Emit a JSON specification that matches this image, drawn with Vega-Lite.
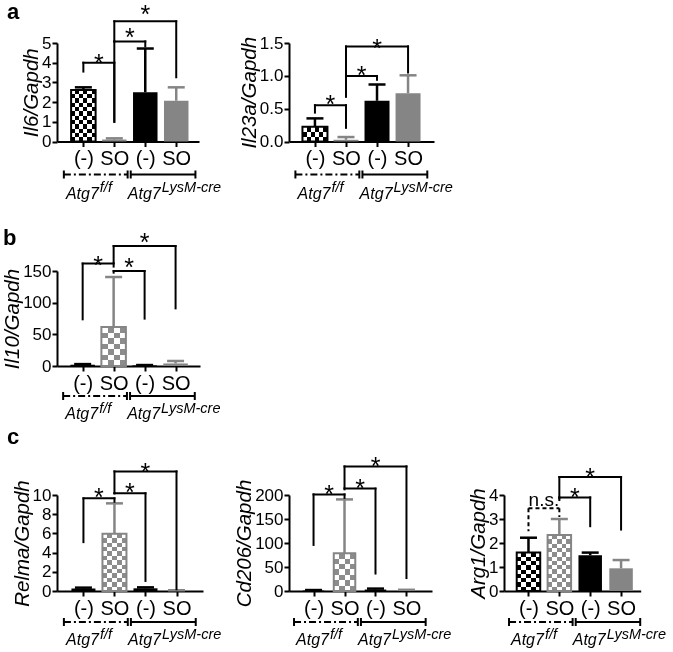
{
"$schema":"https://vega.github.io/schema/vega-lite/v6.json",
"background":"white",
"autosize":{"type":"none"},
"padding":{"left":57,"top":43,"right":616,"bottom":609},
"columns":5,
"bounds":"flush",
"spacing":{"row":129,"column":0},
"config":{
 "view":{"stroke":null},
 "font":"Liberation Sans",
 "axis":{"grid":false,"domainColor":"#000","domainWidth":2,"tickColor":"#000","tickWidth":2,"tickSize":5,"labelColor":"#000","labelFont":"Liberation Sans","titleFont":"Liberation Sans","titleColor":"#000","titleFontStyle":"italic","titleFontWeight":"normal","titleFontSize":20.5,"labelOverlap":false,"labelFlush":false},
 "axisX":{"labelFontSize":20,"labelPadding":2},
 "axisY":{"labelFontSize":17,"labelPadding":1,"titlePadding":0,"labelOverlap":false},
 "text":{"font":"Liberation Sans","color":"#000"},
 "title":{"font":"Liberation Sans","fontSize":22,"fontWeight":"bold","anchor":"start","frame":"group","color":"#000","offset":0,"baseline":"alphabetic"}
},
"datasets":{
 "bars":[
  {"panel":"Il6","genotype":"Atg7 f/f","treatment":"(-)","bar":1,"mean":2.62,"upper":2.75},
  {"panel":"Il6","genotype":"Atg7 f/f","treatment":"SO","bar":2,"mean":0.1,"upper":0.16},
  {"panel":"Il6","genotype":"Atg7 LysM-cre","treatment":"(-)","bar":3,"mean":2.5,"upper":4.72},
  {"panel":"Il6","genotype":"Atg7 LysM-cre","treatment":"SO","bar":4,"mean":2.07,"upper":2.75},
  {"panel":"Il23a","genotype":"Atg7 f/f","treatment":"(-)","bar":1,"mean":0.223,"upper":0.352},
  {"panel":"Il23a","genotype":"Atg7 f/f","treatment":"SO","bar":2,"mean":0.026,"upper":0.068},
  {"panel":"Il23a","genotype":"Atg7 LysM-cre","treatment":"(-)","bar":3,"mean":0.62,"upper":0.868},
  {"panel":"Il23a","genotype":"Atg7 LysM-cre","treatment":"SO","bar":4,"mean":0.735,"upper":1.008},
  {"panel":"Il10","genotype":"Atg7 f/f","treatment":"(-)","bar":1,"mean":2,"upper":3},
  {"panel":"Il10","genotype":"Atg7 f/f","treatment":"SO","bar":2,"mean":61.6,"upper":140.5},
  {"panel":"Il10","genotype":"Atg7 LysM-cre","treatment":"(-)","bar":3,"mean":1,"upper":1.5},
  {"panel":"Il10","genotype":"Atg7 LysM-cre","treatment":"SO","bar":4,"mean":4,"upper":7.9},
  {"panel":"Relma","genotype":"Atg7 f/f","treatment":"(-)","bar":1,"mean":0.25,"upper":0.35},
  {"panel":"Relma","genotype":"Atg7 f/f","treatment":"SO","bar":2,"mean":5.97,"upper":9.13},
  {"panel":"Relma","genotype":"Atg7 LysM-cre","treatment":"(-)","bar":3,"mean":0.28,"upper":0.38},
  {"panel":"Relma","genotype":"Atg7 LysM-cre","treatment":"SO","bar":4,"mean":0.05,"upper":0.08},
  {"panel":"Cd206","genotype":"Atg7 f/f","treatment":"(-)","bar":1,"mean":1,"upper":2},
  {"panel":"Cd206","genotype":"Atg7 f/f","treatment":"SO","bar":2,"mean":78.5,"upper":190.8},
  {"panel":"Cd206","genotype":"Atg7 LysM-cre","treatment":"(-)","bar":3,"mean":3,"upper":5},
  {"panel":"Cd206","genotype":"Atg7 LysM-cre","treatment":"SO","bar":4,"mean":1.5,"upper":2.5},
  {"panel":"Arg1","genotype":"Atg7 f/f","treatment":"(-)","bar":1,"mean":1.6,"upper":2.22},
  {"panel":"Arg1","genotype":"Atg7 f/f","treatment":"SO","bar":2,"mean":2.33,"upper":3.0},
  {"panel":"Arg1","genotype":"Atg7 LysM-cre","treatment":"(-)","bar":3,"mean":1.49,"upper":1.6},
  {"panel":"Arg1","genotype":"Atg7 LysM-cre","treatment":"SO","bar":4,"mean":0.945,"upper":1.29}
 ],
 "tests":[
  {"panel":"Il6","from":1,"to":2,"top":4.0,"fromEnd":3.55,"toEnd":1.0,"label":"*","labelX":1.5,"labelY":4.25},
  {"panel":"Il6","from":2,"to":3,"top":5.08,"fromEnd":5.08,"toEnd":4.83,"label":"*","labelX":2.5,"labelY":5.57},
  {"panel":"Il6","from":2,"to":4,"top":6.1,"fromEnd":1.0,"toEnd":3.26,"label":"*","labelX":3.0,"labelY":6.72},
  {"panel":"Il23a","from":1,"to":2,"top":0.553,"fromEnd":0.44,"toEnd":0.208,"label":"*","labelX":1.5,"labelY":0.647},
  {"panel":"Il23a","from":2,"to":3,"top":0.998,"fromEnd":0.998,"toEnd":0.94,"label":"*","labelX":2.5,"labelY":1.085},
  {"panel":"Il23a","from":2,"to":4,"top":1.448,"fromEnd":0.68,"toEnd":1.05,"label":"*","labelX":3.0,"labelY":1.495},
  {"panel":"Il10","from":1,"to":2,"top":161.7,"fromEnd":73.7,"toEnd":157,"label":"*","labelX":1.5,"labelY":166.9},
  {"panel":"Il10","from":2,"to":3,"top":150,"fromEnd":147.4,"toEnd":74.8,"label":"*","labelX":2.5,"labelY":164.2},
  {"panel":"Il10","from":2,"to":4,"top":189.5,"fromEnd":163.2,"toEnd":91,"label":"*","labelX":3.0,"labelY":204.3},
  {"panel":"Relma","from":1,"to":2,"top":9.65,"fromEnd":5.09,"toEnd":9.3,"label":"*","labelX":1.5,"labelY":10.35},
  {"panel":"Relma","from":2,"to":3,"top":10.18,"fromEnd":10.18,"toEnd":1.05,"label":"*","labelX":2.5,"labelY":10.8},
  {"panel":"Relma","from":2,"to":4,"top":12.46,"fromEnd":10.18,"toEnd":0.18,"label":"*","labelX":3.0,"labelY":12.9},
  {"panel":"Cd206","from":1,"to":2,"top":201.3,"fromEnd":96,"toEnd":194,"label":"*","labelX":1.5,"labelY":213.3},
  {"panel":"Cd206","from":2,"to":3,"top":213.3,"fromEnd":211.8,"toEnd":36.4,"label":"*","labelX":2.5,"labelY":224.5},
  {"panel":"Cd206","from":2,"to":4,"top":259.6,"fromEnd":215.4,"toEnd":27,"label":"*","labelX":3.0,"labelY":270},
  {"panel":"Arg1","from":1,"to":2,"top":3.45,"fromEnd":2.49,"toEnd":3.08,"label":"n.s.","labelX":1.5,"labelY":3.77},
  {"panel":"Arg1","from":2,"to":3,"top":3.9,"fromEnd":3.79,"toEnd":2.7,"label":"*","labelX":2.5,"labelY":4.14},
  {"panel":"Arg1","from":2,"to":4,"top":4.75,"fromEnd":3.86,"toEnd":2.56,"label":"*","labelX":3.0,"labelY":4.96}
 ],
 "geno":[
  {"genotype":"Atg7 f/f","base":"Atg7","sup":"f/f","from":0.37,"to":2.43,"mid":1.5},
  {"genotype":"Atg7 LysM-cre","base":"Atg7","sup":"LysM-cre","from":2.53,"to":4.62,"mid":3.5}
 ]
},
"concat":[
{"width":142,"height":98.5,"title":{"text":"a","dx":-50,"dy":25},
 "layer":[
  {"data":{"name":"bars"},"transform":[{"filter":"datum.panel=='Il6'"}],"mark":{"type":"bar","width":24.5},
   "encoding":{"x":{"field":"bar","type":"quantitative","scale":{"domain":[0.31,4.574],"nice":false,"zero":false},"axis":{"title":null,"values":[1,2,3,4],"tickCount":20,"labelOverlap":false,"labelExpr":"datum.value % 2 == 1 ? '(-)' : 'SO'"}},
    "y":{"field":"mean","type":"quantitative","stack":null,"scale":{"domain":[0,5],"nice":false},"axis":{"title":"Il6/Gapdh","values":[0,1,2,3,4,5],"format":"d","tickCount":20,"labelOverlap":false}},
    "color":{"field":"bar","type":"nominal","scale":{"domain":[1,2,3,4],"range":["#000000","#858585","#000000","#858585"]},"legend":null}}},
  {"data":{"name":"bars"},"transform":[{"filter":"datum.panel=='Il6' && datum.bar==1"}],"mark":{"type":"bar","width":24.5,"fill":{"gradient":"linear","x1":0,"y1":0,"x2":1,"y2":0,"stops":[{"offset":0,"color":"#000"},{"offset":0.1667,"color":"#000"},{"offset":0.1667,"color":"#fff"},{"offset":0.3333,"color":"#fff"},{"offset":0.3333,"color":"#000"},{"offset":0.5,"color":"#000"},{"offset":0.5,"color":"#fff"},{"offset":0.6667,"color":"#fff"},{"offset":0.6667,"color":"#000"},{"offset":0.8333,"color":"#000"},{"offset":0.8333,"color":"#fff"},{"offset":1,"color":"#fff"}]}},"encoding":{"x":{"field":"bar","type":"quantitative"},"y":{"field":"mean","type":"quantitative"}}},
  {"data":{"name":"bars"},"transform":[{"filter":"datum.panel=='Il6' && datum.bar==1"}],"mark":{"type":"bar","width":24.5,"blend":"difference","fill":{"gradient":"linear","x1":0,"y1":0,"x2":0,"y2":1,"stops":[{"offset":0,"color":"#fff"},{"offset":0.0833,"color":"#fff"},{"offset":0.0833,"color":"#000"},{"offset":0.1667,"color":"#000"},{"offset":0.1667,"color":"#fff"},{"offset":0.25,"color":"#fff"},{"offset":0.25,"color":"#000"},{"offset":0.3333,"color":"#000"},{"offset":0.3333,"color":"#fff"},{"offset":0.4167,"color":"#fff"},{"offset":0.4167,"color":"#000"},{"offset":0.5,"color":"#000"},{"offset":0.5,"color":"#fff"},{"offset":0.5833,"color":"#fff"},{"offset":0.5833,"color":"#000"},{"offset":0.6667,"color":"#000"},{"offset":0.6667,"color":"#fff"},{"offset":0.75,"color":"#fff"},{"offset":0.75,"color":"#000"},{"offset":0.8333,"color":"#000"},{"offset":0.8333,"color":"#fff"},{"offset":0.9167,"color":"#fff"},{"offset":0.9167,"color":"#000"},{"offset":1,"color":"#000"}]}},"encoding":{"x":{"field":"bar","type":"quantitative"},"y":{"field":"mean","type":"quantitative"}}},
  {"data":{"name":"bars"},"transform":[{"filter":"datum.panel=='Il6' && datum.bar==1"}],"mark":{"type":"bar","width":24.5,"fillOpacity":0,"stroke":"#000","strokeWidth":2},"encoding":{"x":{"field":"bar","type":"quantitative"},"y":{"field":"mean","type":"quantitative"}}},
  {"data":{"name":"bars"},"transform":[{"filter":"datum.panel=='Il6'"}],"mark":{"type":"rule","strokeWidth":2.5},"encoding":{"x":{"field":"bar","type":"quantitative"},"y":{"field":"mean","type":"quantitative"},"y2":{"field":"upper"},"color":{"field":"bar","type":"nominal","legend":null}}},
  {"data":{"name":"bars"},"transform":[{"filter":"datum.panel=='Il6'"}],"mark":{"type":"rule","strokeWidth":2.5,"xOffset":-8.5,"x2Offset":8.5},"encoding":{"x":{"field":"bar","type":"quantitative"},"x2":{"field":"bar"},"y":{"field":"upper","type":"quantitative"},"color":{"field":"bar","type":"nominal","legend":null}}},
  {"data":{"name":"tests"},"transform":[{"filter":"datum.panel=='Il6'"}],"mark":{"type":"rule","strokeWidth":2,"strokeCap":"square"},"encoding":{"x":{"field":"from","type":"quantitative"},"x2":{"field":"to"},"y":{"field":"top","type":"quantitative"}}},
  {"data":{"name":"tests"},"transform":[{"filter":"datum.panel=='Il6'"}],"mark":{"type":"rule","strokeWidth":2,"strokeCap":"square"},"encoding":{"x":{"field":"from","type":"quantitative"},"y":{"field":"top","type":"quantitative"},"y2":{"field":"fromEnd"}}},
  {"data":{"name":"tests"},"transform":[{"filter":"datum.panel=='Il6'"}],"mark":{"type":"rule","strokeWidth":2,"strokeCap":"square"},"encoding":{"x":{"field":"to","type":"quantitative"},"y":{"field":"top","type":"quantitative"},"y2":{"field":"toEnd"}}},
  {"data":{"name":"tests"},"transform":[{"filter":"datum.panel=='Il6'"}],"mark":{"type":"text","fontSize":25,"baseline":"alphabetic","dy":14},"encoding":{"x":{"field":"labelX","type":"quantitative"},"y":{"field":"labelY","type":"quantitative"},"text":{"field":"label"}}},
  {"data":{"name":"geno"},"transform":[{"filter":"datum.sup=='f/f'"}],"mark":{"type":"rule","strokeWidth":2,"strokeDash":[7,3,2,3],"yOffset":33},"encoding":{"x":{"field":"from","type":"quantitative"},"x2":{"field":"to"},"y":{"datum":0}}},
  {"data":{"name":"geno"},"transform":[{"filter":"datum.sup!='f/f'"}],"mark":{"type":"rule","strokeWidth":2,"yOffset":33},"encoding":{"x":{"field":"from","type":"quantitative"},"x2":{"field":"to"},"y":{"datum":0}}},
  {"data":{"name":"geno"},"mark":{"type":"rule","strokeWidth":2,"yOffset":29,"y2Offset":37},"encoding":{"x":{"field":"from","type":"quantitative"},"y":{"datum":0},"y2":{"datum":0}}},
  {"data":{"name":"geno"},"mark":{"type":"rule","strokeWidth":2,"yOffset":29,"y2Offset":37},"encoding":{"x":{"field":"to","type":"quantitative"},"y":{"datum":0},"y2":{"datum":0}}},
  {"data":{"name":"geno"},"mark":{"type":"text","fontSize":16,"fontStyle":"italic","align":"right","baseline":"alphabetic","yOffset":57},"encoding":{"x":{"field":"mid","type":"quantitative"},"y":{"datum":0},"text":{"field":"base"}}},
  {"data":{"name":"geno"},"mark":{"type":"text","fontSize":14.5,"fontStyle":"italic","align":"left","baseline":"alphabetic","yOffset":50.5,"dx":1},"encoding":{"x":{"field":"mid","type":"quantitative"},"y":{"datum":0},"text":{"field":"sup"}}}
 ]},
{"width":86,"height":1,"data":{"values":[]},"mark":"point"},
{"width":145,"height":98.5,
 "layer":[
  {"data":{"name":"bars"},"transform":[{"filter":"datum.panel=='Il23a'"}],"mark":{"type":"bar","width":25},
   "encoding":{"x":{"field":"bar","type":"quantitative","scale":{"domain":[0.325,4.675],"nice":false,"zero":false},"axis":{"title":null,"values":[1,2,3,4],"tickCount":20,"labelOverlap":false,"labelExpr":"datum.value % 2 == 1 ? '(-)' : 'SO'"}},
    "y":{"field":"mean","type":"quantitative","stack":null,"scale":{"domain":[0,1.5],"nice":false},"axis":{"title":"Il23a/Gapdh","values":[0,0.5,1,1.5],"tickCount":20,"format":".1f","labelOverlap":false}},
    "color":{"field":"bar","type":"nominal","scale":{"domain":[1,2,3,4],"range":["#000000","#858585","#000000","#858585"]},"legend":null}}},
  {"data":{"name":"bars"},"transform":[{"filter":"datum.panel=='Il23a' && datum.bar==1"}],"mark":{"type":"bar","width":25,"fill":{"gradient":"linear","x1":0,"y1":0,"x2":1,"y2":0,"stops":[{"offset":0,"color":"#000"},{"offset":0.1667,"color":"#000"},{"offset":0.1667,"color":"#fff"},{"offset":0.3333,"color":"#fff"},{"offset":0.3333,"color":"#000"},{"offset":0.5,"color":"#000"},{"offset":0.5,"color":"#fff"},{"offset":0.6667,"color":"#fff"},{"offset":0.6667,"color":"#000"},{"offset":0.8333,"color":"#000"},{"offset":0.8333,"color":"#fff"},{"offset":1,"color":"#fff"}]}},"encoding":{"x":{"field":"bar","type":"quantitative"},"y":{"field":"mean","type":"quantitative"}}},
  {"data":{"name":"bars"},"transform":[{"filter":"datum.panel=='Il23a' && datum.bar==1"}],"mark":{"type":"bar","width":25,"blend":"difference","fill":{"gradient":"linear","x1":0,"y1":0,"x2":0,"y2":1,"stops":[{"offset":0,"color":"#fff"},{"offset":0.3333,"color":"#fff"},{"offset":0.3333,"color":"#000"},{"offset":0.6667,"color":"#000"},{"offset":0.6667,"color":"#fff"},{"offset":1,"color":"#fff"}]}},"encoding":{"x":{"field":"bar","type":"quantitative"},"y":{"field":"mean","type":"quantitative"}}},
  {"data":{"name":"bars"},"transform":[{"filter":"datum.panel=='Il23a' && datum.bar==1"}],"mark":{"type":"bar","width":25,"fillOpacity":0,"stroke":"#000","strokeWidth":2},"encoding":{"x":{"field":"bar","type":"quantitative"},"y":{"field":"mean","type":"quantitative"}}},
  {"data":{"name":"bars"},"transform":[{"filter":"datum.panel=='Il23a'"}],"mark":{"type":"rule","strokeWidth":2.5},"encoding":{"x":{"field":"bar","type":"quantitative"},"y":{"field":"mean","type":"quantitative"},"y2":{"field":"upper"},"color":{"field":"bar","type":"nominal","legend":null}}},
  {"data":{"name":"bars"},"transform":[{"filter":"datum.panel=='Il23a'"}],"mark":{"type":"rule","strokeWidth":2.5,"xOffset":-8.5,"x2Offset":8.5},"encoding":{"x":{"field":"bar","type":"quantitative"},"x2":{"field":"bar"},"y":{"field":"upper","type":"quantitative"},"color":{"field":"bar","type":"nominal","legend":null}}},
  {"data":{"name":"tests"},"transform":[{"filter":"datum.panel=='Il23a'"}],"mark":{"type":"rule","strokeWidth":2,"strokeCap":"square"},"encoding":{"x":{"field":"from","type":"quantitative"},"x2":{"field":"to"},"y":{"field":"top","type":"quantitative"}}},
  {"data":{"name":"tests"},"transform":[{"filter":"datum.panel=='Il23a'"}],"mark":{"type":"rule","strokeWidth":2,"strokeCap":"square"},"encoding":{"x":{"field":"from","type":"quantitative"},"y":{"field":"top","type":"quantitative"},"y2":{"field":"fromEnd"}}},
  {"data":{"name":"tests"},"transform":[{"filter":"datum.panel=='Il23a'"}],"mark":{"type":"rule","strokeWidth":2,"strokeCap":"square"},"encoding":{"x":{"field":"to","type":"quantitative"},"y":{"field":"top","type":"quantitative"},"y2":{"field":"toEnd"}}},
  {"data":{"name":"tests"},"transform":[{"filter":"datum.panel=='Il23a'"}],"mark":{"type":"text","fontSize":25,"baseline":"alphabetic","dy":14},"encoding":{"x":{"field":"labelX","type":"quantitative"},"y":{"field":"labelY","type":"quantitative"},"text":{"field":"label"}}},
  {"data":{"name":"geno"},"transform":[{"filter":"datum.sup=='f/f'"}],"mark":{"type":"rule","strokeWidth":2,"strokeDash":[7,3,2,3],"yOffset":33},"encoding":{"x":{"field":"from","type":"quantitative"},"x2":{"field":"to"},"y":{"datum":0}}},
  {"data":{"name":"geno"},"transform":[{"filter":"datum.sup!='f/f'"}],"mark":{"type":"rule","strokeWidth":2,"yOffset":33},"encoding":{"x":{"field":"from","type":"quantitative"},"x2":{"field":"to"},"y":{"datum":0}}},
  {"data":{"name":"geno"},"mark":{"type":"rule","strokeWidth":2,"yOffset":29,"y2Offset":37},"encoding":{"x":{"field":"from","type":"quantitative"},"y":{"datum":0},"y2":{"datum":0}}},
  {"data":{"name":"geno"},"mark":{"type":"rule","strokeWidth":2,"yOffset":29,"y2Offset":37},"encoding":{"x":{"field":"to","type":"quantitative"},"y":{"datum":0},"y2":{"datum":0}}},
  {"data":{"name":"geno"},"mark":{"type":"text","fontSize":16,"fontStyle":"italic","align":"right","baseline":"alphabetic","yOffset":57},"encoding":{"x":{"field":"mid","type":"quantitative"},"y":{"datum":0},"text":{"field":"base"}}},
  {"data":{"name":"geno"},"mark":{"type":"text","fontSize":14.5,"fontStyle":"italic","align":"left","baseline":"alphabetic","yOffset":50.5,"dx":1},"encoding":{"x":{"field":"mid","type":"quantitative"},"y":{"datum":0},"text":{"field":"sup"}}}
 ]},
{"width":69.3,"height":1,"data":{"values":[]},"mark":"point"},
{"width":1,"height":1,"data":{"values":[]},"mark":"point"},
{"width":143,"height":95,"title":{"text":"b","dx":-54,"dy":23},
 "layer":[
  {"data":{"name":"bars"},"transform":[{"filter":"datum.panel=='Il10'"}],"mark":{"type":"bar","width":24.5},
   "encoding":{"x":{"field":"bar","type":"quantitative","scale":{"domain":[0.333,4.627],"nice":false,"zero":false},"axis":{"title":null,"values":[1,2,3,4],"tickCount":20,"labelOverlap":false,"labelExpr":"datum.value % 2 == 1 ? '(-)' : 'SO'"}},
    "y":{"field":"mean","type":"quantitative","stack":null,"scale":{"domain":[0,150],"nice":false},"axis":{"title":"Il10/Gapdh","values":[0,50,100,150],"format":"d","tickCount":20,"labelOverlap":false}},
    "color":{"field":"bar","type":"nominal","scale":{"domain":[1,2,3,4],"range":["#000000","#858585","#000000","#858585"]},"legend":null}}},
  {"data":{"name":"bars"},"transform":[{"filter":"datum.panel=='Il10' && datum.bar==2"}],"mark":{"type":"bar","width":24.5,"fill":{"gradient":"linear","x1":0,"y1":0,"x2":1,"y2":0,"stops":[{"offset":0,"color":"#000"},{"offset":0.25,"color":"#000"},{"offset":0.25,"color":"#fff"},{"offset":0.5,"color":"#fff"},{"offset":0.5,"color":"#000"},{"offset":0.75,"color":"#000"},{"offset":0.75,"color":"#fff"},{"offset":1,"color":"#fff"}]}},"encoding":{"x":{"field":"bar","type":"quantitative"},"y":{"field":"mean","type":"quantitative"}}},
  {"data":{"name":"bars"},"transform":[{"filter":"datum.panel=='Il10' && datum.bar==2"}],"mark":{"type":"bar","width":24.5,"blend":"difference","fill":{"gradient":"linear","x1":0,"y1":0,"x2":0,"y2":1,"stops":[{"offset":0,"color":"#fff"},{"offset":0.1429,"color":"#fff"},{"offset":0.1429,"color":"#000"},{"offset":0.2857,"color":"#000"},{"offset":0.2857,"color":"#fff"},{"offset":0.4286,"color":"#fff"},{"offset":0.4286,"color":"#000"},{"offset":0.5714,"color":"#000"},{"offset":0.5714,"color":"#fff"},{"offset":0.7143,"color":"#fff"},{"offset":0.7143,"color":"#000"},{"offset":0.8571,"color":"#000"},{"offset":0.8571,"color":"#fff"},{"offset":1,"color":"#fff"}]}},"encoding":{"x":{"field":"bar","type":"quantitative"},"y":{"field":"mean","type":"quantitative"}}},
  {"data":{"name":"bars"},"transform":[{"filter":"datum.panel=='Il10' && datum.bar==2"}],"mark":{"type":"bar","width":24.5,"blend":"screen","fill":"#8c8c8c"},"encoding":{"x":{"field":"bar","type":"quantitative"},"y":{"field":"mean","type":"quantitative"}}},
  {"data":{"name":"bars"},"transform":[{"filter":"datum.panel=='Il10' && datum.bar==2"}],"mark":{"type":"bar","width":24.5,"fillOpacity":0,"stroke":"#858585","strokeWidth":2},"encoding":{"x":{"field":"bar","type":"quantitative"},"y":{"field":"mean","type":"quantitative"}}},
  {"data":{"name":"bars"},"transform":[{"filter":"datum.panel=='Il10'"}],"mark":{"type":"rule","strokeWidth":2.5},"encoding":{"x":{"field":"bar","type":"quantitative"},"y":{"field":"mean","type":"quantitative"},"y2":{"field":"upper"},"color":{"field":"bar","type":"nominal","legend":null}}},
  {"data":{"name":"bars"},"transform":[{"filter":"datum.panel=='Il10'"}],"mark":{"type":"rule","strokeWidth":2.5,"xOffset":-8.5,"x2Offset":8.5},"encoding":{"x":{"field":"bar","type":"quantitative"},"x2":{"field":"bar"},"y":{"field":"upper","type":"quantitative"},"color":{"field":"bar","type":"nominal","legend":null}}},
  {"data":{"name":"tests"},"transform":[{"filter":"datum.panel=='Il10'"}],"mark":{"type":"rule","strokeWidth":2,"strokeCap":"square"},"encoding":{"x":{"field":"from","type":"quantitative"},"x2":{"field":"to"},"y":{"field":"top","type":"quantitative"}}},
  {"data":{"name":"tests"},"transform":[{"filter":"datum.panel=='Il10'"}],"mark":{"type":"rule","strokeWidth":2,"strokeCap":"square"},"encoding":{"x":{"field":"from","type":"quantitative"},"y":{"field":"top","type":"quantitative"},"y2":{"field":"fromEnd"}}},
  {"data":{"name":"tests"},"transform":[{"filter":"datum.panel=='Il10'"}],"mark":{"type":"rule","strokeWidth":2,"strokeCap":"square"},"encoding":{"x":{"field":"to","type":"quantitative"},"y":{"field":"top","type":"quantitative"},"y2":{"field":"toEnd"}}},
  {"data":{"name":"tests"},"transform":[{"filter":"datum.panel=='Il10'"}],"mark":{"type":"text","fontSize":25,"baseline":"alphabetic","dy":14},"encoding":{"x":{"field":"labelX","type":"quantitative"},"y":{"field":"labelY","type":"quantitative"},"text":{"field":"label"}}},
  {"data":{"name":"geno"},"transform":[{"filter":"datum.sup=='f/f'"}],"mark":{"type":"rule","strokeWidth":2,"strokeDash":[7,3,2,3],"yOffset":30},"encoding":{"x":{"field":"from","type":"quantitative"},"x2":{"field":"to"},"y":{"datum":0}}},
  {"data":{"name":"geno"},"transform":[{"filter":"datum.sup!='f/f'"}],"mark":{"type":"rule","strokeWidth":2,"yOffset":30},"encoding":{"x":{"field":"from","type":"quantitative"},"x2":{"field":"to"},"y":{"datum":0}}},
  {"data":{"name":"geno"},"mark":{"type":"rule","strokeWidth":2,"yOffset":26,"y2Offset":34},"encoding":{"x":{"field":"from","type":"quantitative"},"y":{"datum":0},"y2":{"datum":0}}},
  {"data":{"name":"geno"},"mark":{"type":"rule","strokeWidth":2,"yOffset":26,"y2Offset":34},"encoding":{"x":{"field":"to","type":"quantitative"},"y":{"datum":0},"y2":{"datum":0}}},
  {"data":{"name":"geno"},"mark":{"type":"text","fontSize":16,"fontStyle":"italic","align":"right","baseline":"alphabetic","yOffset":53},"encoding":{"x":{"field":"mid","type":"quantitative"},"y":{"datum":0},"text":{"field":"base"}}},
  {"data":{"name":"geno"},"mark":{"type":"text","fontSize":14.5,"fontStyle":"italic","align":"left","baseline":"alphabetic","yOffset":46.5,"dx":1},"encoding":{"x":{"field":"mid","type":"quantitative"},"y":{"datum":0},"text":{"field":"sup"}}}
 ]},
{"width":1,"height":1,"data":{"values":[]},"mark":"point"},
{"width":1,"height":1,"data":{"values":[]},"mark":"point"},
{"width":1,"height":1,"data":{"values":[]},"mark":"point"},
{"width":1,"height":1,"data":{"values":[]},"mark":"point"},
{"width":146,"height":96,"title":{"text":"c","dx":-50,"dy":-8},
 "layer":[
  {"data":{"name":"bars"},"transform":[{"filter":"datum.panel=='Relma'"}],"mark":{"type":"bar","width":24},
   "encoding":{"x":{"field":"bar","type":"quantitative","scale":{"domain":[0.309,4.693],"nice":false,"zero":false},"axis":{"title":null,"values":[1,2,3,4],"tickCount":20,"labelOverlap":false,"labelExpr":"datum.value % 2 == 1 ? '(-)' : 'SO'"}},
    "y":{"field":"mean","type":"quantitative","stack":null,"scale":{"domain":[0,10],"nice":false},"axis":{"title":"Relma/Gapdh","values":[0,2,4,6,8,10],"format":"d","tickCount":20,"labelOverlap":false}},
    "color":{"field":"bar","type":"nominal","scale":{"domain":[1,2,3,4],"range":["#000000","#858585","#000000","#858585"]},"legend":null}}},
  {"data":{"name":"bars"},"transform":[{"filter":"datum.panel=='Relma' && datum.bar==2"}],"mark":{"type":"bar","width":24,"fill":{"gradient":"linear","x1":0,"y1":0,"x2":1,"y2":0,"stops":[{"offset":0,"color":"#000"},{"offset":0.2,"color":"#000"},{"offset":0.2,"color":"#fff"},{"offset":0.4,"color":"#fff"},{"offset":0.4,"color":"#000"},{"offset":0.6,"color":"#000"},{"offset":0.6,"color":"#fff"},{"offset":0.8,"color":"#fff"},{"offset":0.8,"color":"#000"},{"offset":1,"color":"#000"}]}},"encoding":{"x":{"field":"bar","type":"quantitative"},"y":{"field":"mean","type":"quantitative"}}},
  {"data":{"name":"bars"},"transform":[{"filter":"datum.panel=='Relma' && datum.bar==2"}],"mark":{"type":"bar","width":24,"blend":"difference","fill":{"gradient":"linear","x1":0,"y1":0,"x2":0,"y2":1,"stops":[{"offset":0,"color":"#fff"},{"offset":0.0769,"color":"#fff"},{"offset":0.0769,"color":"#000"},{"offset":0.1538,"color":"#000"},{"offset":0.1538,"color":"#fff"},{"offset":0.2308,"color":"#fff"},{"offset":0.2308,"color":"#000"},{"offset":0.3077,"color":"#000"},{"offset":0.3077,"color":"#fff"},{"offset":0.3846,"color":"#fff"},{"offset":0.3846,"color":"#000"},{"offset":0.4615,"color":"#000"},{"offset":0.4615,"color":"#fff"},{"offset":0.5385,"color":"#fff"},{"offset":0.5385,"color":"#000"},{"offset":0.6154,"color":"#000"},{"offset":0.6154,"color":"#fff"},{"offset":0.6923,"color":"#fff"},{"offset":0.6923,"color":"#000"},{"offset":0.7692,"color":"#000"},{"offset":0.7692,"color":"#fff"},{"offset":0.8462,"color":"#fff"},{"offset":0.8462,"color":"#000"},{"offset":0.9231,"color":"#000"},{"offset":0.9231,"color":"#fff"},{"offset":1,"color":"#fff"}]}},"encoding":{"x":{"field":"bar","type":"quantitative"},"y":{"field":"mean","type":"quantitative"}}},
  {"data":{"name":"bars"},"transform":[{"filter":"datum.panel=='Relma' && datum.bar==2"}],"mark":{"type":"bar","width":24,"blend":"screen","fill":"#8c8c8c"},"encoding":{"x":{"field":"bar","type":"quantitative"},"y":{"field":"mean","type":"quantitative"}}},
  {"data":{"name":"bars"},"transform":[{"filter":"datum.panel=='Relma' && datum.bar==2"}],"mark":{"type":"bar","width":24,"fillOpacity":0,"stroke":"#858585","strokeWidth":2},"encoding":{"x":{"field":"bar","type":"quantitative"},"y":{"field":"mean","type":"quantitative"}}},
  {"data":{"name":"bars"},"transform":[{"filter":"datum.panel=='Relma'"}],"mark":{"type":"rule","strokeWidth":2.5},"encoding":{"x":{"field":"bar","type":"quantitative"},"y":{"field":"mean","type":"quantitative"},"y2":{"field":"upper"},"color":{"field":"bar","type":"nominal","legend":null}}},
  {"data":{"name":"bars"},"transform":[{"filter":"datum.panel=='Relma'"}],"mark":{"type":"rule","strokeWidth":2.5,"xOffset":-8.5,"x2Offset":8.5},"encoding":{"x":{"field":"bar","type":"quantitative"},"x2":{"field":"bar"},"y":{"field":"upper","type":"quantitative"},"color":{"field":"bar","type":"nominal","legend":null}}},
  {"data":{"name":"tests"},"transform":[{"filter":"datum.panel=='Relma'"}],"mark":{"type":"rule","strokeWidth":2,"strokeCap":"square"},"encoding":{"x":{"field":"from","type":"quantitative"},"x2":{"field":"to"},"y":{"field":"top","type":"quantitative"}}},
  {"data":{"name":"tests"},"transform":[{"filter":"datum.panel=='Relma'"}],"mark":{"type":"rule","strokeWidth":2,"strokeCap":"square"},"encoding":{"x":{"field":"from","type":"quantitative"},"y":{"field":"top","type":"quantitative"},"y2":{"field":"fromEnd"}}},
  {"data":{"name":"tests"},"transform":[{"filter":"datum.panel=='Relma'"}],"mark":{"type":"rule","strokeWidth":2,"strokeCap":"square"},"encoding":{"x":{"field":"to","type":"quantitative"},"y":{"field":"top","type":"quantitative"},"y2":{"field":"toEnd"}}},
  {"data":{"name":"tests"},"transform":[{"filter":"datum.panel=='Relma'"}],"mark":{"type":"text","fontSize":25,"baseline":"alphabetic","dy":14},"encoding":{"x":{"field":"labelX","type":"quantitative"},"y":{"field":"labelY","type":"quantitative"},"text":{"field":"label"}}},
  {"data":{"name":"geno"},"transform":[{"filter":"datum.sup=='f/f'"}],"mark":{"type":"rule","strokeWidth":2,"strokeDash":[7,3,2,3],"yOffset":31},"encoding":{"x":{"field":"from","type":"quantitative"},"x2":{"field":"to"},"y":{"datum":0}}},
  {"data":{"name":"geno"},"transform":[{"filter":"datum.sup!='f/f'"}],"mark":{"type":"rule","strokeWidth":2,"yOffset":31},"encoding":{"x":{"field":"from","type":"quantitative"},"x2":{"field":"to"},"y":{"datum":0}}},
  {"data":{"name":"geno"},"mark":{"type":"rule","strokeWidth":2,"yOffset":27,"y2Offset":35},"encoding":{"x":{"field":"from","type":"quantitative"},"y":{"datum":0},"y2":{"datum":0}}},
  {"data":{"name":"geno"},"mark":{"type":"rule","strokeWidth":2,"yOffset":27,"y2Offset":35},"encoding":{"x":{"field":"to","type":"quantitative"},"y":{"datum":0},"y2":{"datum":0}}},
  {"data":{"name":"geno"},"mark":{"type":"text","fontSize":16,"fontStyle":"italic","align":"right","baseline":"alphabetic","yOffset":54},"encoding":{"x":{"field":"mid","type":"quantitative"},"y":{"datum":0},"text":{"field":"base"}}},
  {"data":{"name":"geno"},"mark":{"type":"text","fontSize":14.5,"fontStyle":"italic","align":"left","baseline":"alphabetic","yOffset":47.5,"dx":1},"encoding":{"x":{"field":"mid","type":"quantitative"},"y":{"datum":0},"text":{"field":"sup"}}}
 ]},
{"width":86,"height":1,"data":{"values":[]},"mark":"point"},
{"width":143,"height":96,
 "layer":[
  {"data":{"name":"bars"},"transform":[{"filter":"datum.panel=='Cd206'"}],"mark":{"type":"bar","width":21.5},
   "encoding":{"x":{"field":"bar","type":"quantitative","scale":{"domain":[0.369,4.663],"nice":false,"zero":false},"axis":{"title":null,"values":[1,2,3,4],"tickCount":20,"labelOverlap":false,"labelExpr":"datum.value % 2 == 1 ? '(-)' : 'SO'"}},
    "y":{"field":"mean","type":"quantitative","stack":null,"scale":{"domain":[0,200],"nice":false},"axis":{"title":"Cd206/Gapdh","values":[0,50,100,150,200],"format":"d","tickCount":20,"labelOverlap":false}},
    "color":{"field":"bar","type":"nominal","scale":{"domain":[1,2,3,4],"range":["#000000","#858585","#000000","#858585"]},"legend":null}}},
  {"data":{"name":"bars"},"transform":[{"filter":"datum.panel=='Cd206' && datum.bar==2"}],"mark":{"type":"bar","width":21.5,"fill":{"gradient":"linear","x1":0,"y1":0,"x2":1,"y2":0,"stops":[{"offset":0,"color":"#000"},{"offset":0.25,"color":"#000"},{"offset":0.25,"color":"#fff"},{"offset":0.5,"color":"#fff"},{"offset":0.5,"color":"#000"},{"offset":0.75,"color":"#000"},{"offset":0.75,"color":"#fff"},{"offset":1,"color":"#fff"}]}},"encoding":{"x":{"field":"bar","type":"quantitative"},"y":{"field":"mean","type":"quantitative"}}},
  {"data":{"name":"bars"},"transform":[{"filter":"datum.panel=='Cd206' && datum.bar==2"}],"mark":{"type":"bar","width":21.5,"blend":"difference","fill":{"gradient":"linear","x1":0,"y1":0,"x2":0,"y2":1,"stops":[{"offset":0,"color":"#fff"},{"offset":0.1429,"color":"#fff"},{"offset":0.1429,"color":"#000"},{"offset":0.2857,"color":"#000"},{"offset":0.2857,"color":"#fff"},{"offset":0.4286,"color":"#fff"},{"offset":0.4286,"color":"#000"},{"offset":0.5714,"color":"#000"},{"offset":0.5714,"color":"#fff"},{"offset":0.7143,"color":"#fff"},{"offset":0.7143,"color":"#000"},{"offset":0.8571,"color":"#000"},{"offset":0.8571,"color":"#fff"},{"offset":1,"color":"#fff"}]}},"encoding":{"x":{"field":"bar","type":"quantitative"},"y":{"field":"mean","type":"quantitative"}}},
  {"data":{"name":"bars"},"transform":[{"filter":"datum.panel=='Cd206' && datum.bar==2"}],"mark":{"type":"bar","width":21.5,"blend":"screen","fill":"#8c8c8c"},"encoding":{"x":{"field":"bar","type":"quantitative"},"y":{"field":"mean","type":"quantitative"}}},
  {"data":{"name":"bars"},"transform":[{"filter":"datum.panel=='Cd206' && datum.bar==2"}],"mark":{"type":"bar","width":21.5,"fillOpacity":0,"stroke":"#858585","strokeWidth":2},"encoding":{"x":{"field":"bar","type":"quantitative"},"y":{"field":"mean","type":"quantitative"}}},
  {"data":{"name":"bars"},"transform":[{"filter":"datum.panel=='Cd206'"}],"mark":{"type":"rule","strokeWidth":2.5},"encoding":{"x":{"field":"bar","type":"quantitative"},"y":{"field":"mean","type":"quantitative"},"y2":{"field":"upper"},"color":{"field":"bar","type":"nominal","legend":null}}},
  {"data":{"name":"bars"},"transform":[{"filter":"datum.panel=='Cd206'"}],"mark":{"type":"rule","strokeWidth":2.5,"xOffset":-8.5,"x2Offset":8.5},"encoding":{"x":{"field":"bar","type":"quantitative"},"x2":{"field":"bar"},"y":{"field":"upper","type":"quantitative"},"color":{"field":"bar","type":"nominal","legend":null}}},
  {"data":{"name":"tests"},"transform":[{"filter":"datum.panel=='Cd206'"}],"mark":{"type":"rule","strokeWidth":2,"strokeCap":"square"},"encoding":{"x":{"field":"from","type":"quantitative"},"x2":{"field":"to"},"y":{"field":"top","type":"quantitative"}}},
  {"data":{"name":"tests"},"transform":[{"filter":"datum.panel=='Cd206'"}],"mark":{"type":"rule","strokeWidth":2,"strokeCap":"square"},"encoding":{"x":{"field":"from","type":"quantitative"},"y":{"field":"top","type":"quantitative"},"y2":{"field":"fromEnd"}}},
  {"data":{"name":"tests"},"transform":[{"filter":"datum.panel=='Cd206'"}],"mark":{"type":"rule","strokeWidth":2,"strokeCap":"square"},"encoding":{"x":{"field":"to","type":"quantitative"},"y":{"field":"top","type":"quantitative"},"y2":{"field":"toEnd"}}},
  {"data":{"name":"tests"},"transform":[{"filter":"datum.panel=='Cd206'"}],"mark":{"type":"text","fontSize":25,"baseline":"alphabetic","dy":14},"encoding":{"x":{"field":"labelX","type":"quantitative"},"y":{"field":"labelY","type":"quantitative"},"text":{"field":"label"}}},
  {"data":{"name":"geno"},"transform":[{"filter":"datum.sup=='f/f'"}],"mark":{"type":"rule","strokeWidth":2,"strokeDash":[7,3,2,3],"yOffset":31},"encoding":{"x":{"field":"from","type":"quantitative"},"x2":{"field":"to"},"y":{"datum":0}}},
  {"data":{"name":"geno"},"transform":[{"filter":"datum.sup!='f/f'"}],"mark":{"type":"rule","strokeWidth":2,"yOffset":31},"encoding":{"x":{"field":"from","type":"quantitative"},"x2":{"field":"to"},"y":{"datum":0}}},
  {"data":{"name":"geno"},"mark":{"type":"rule","strokeWidth":2,"yOffset":27,"y2Offset":35},"encoding":{"x":{"field":"from","type":"quantitative"},"y":{"datum":0},"y2":{"datum":0}}},
  {"data":{"name":"geno"},"mark":{"type":"rule","strokeWidth":2,"yOffset":27,"y2Offset":35},"encoding":{"x":{"field":"to","type":"quantitative"},"y":{"datum":0},"y2":{"datum":0}}},
  {"data":{"name":"geno"},"mark":{"type":"text","fontSize":16,"fontStyle":"italic","align":"right","baseline":"alphabetic","yOffset":54},"encoding":{"x":{"field":"mid","type":"quantitative"},"y":{"datum":0},"text":{"field":"base"}}},
  {"data":{"name":"geno"},"mark":{"type":"text","fontSize":14.5,"fontStyle":"italic","align":"left","baseline":"alphabetic","yOffset":47.5,"dx":1},"encoding":{"x":{"field":"mid","type":"quantitative"},"y":{"datum":0},"text":{"field":"sup"}}}
 ]},
{"width":69.3,"height":1,"data":{"values":[]},"mark":"point"},
{"width":136.7,"height":96,
 "layer":[
  {"data":{"name":"bars"},"transform":[{"filter":"datum.panel=='Arg1'"}],"mark":{"type":"bar","width":23.5},
   "encoding":{"x":{"field":"bar","type":"quantitative","scale":{"domain":[0.369,4.474],"nice":false,"zero":false},"axis":{"title":null,"values":[1,2,3,4],"tickCount":20,"labelOverlap":false,"labelExpr":"datum.value % 2 == 1 ? '(-)' : 'SO'"}},
    "y":{"field":"mean","type":"quantitative","stack":null,"scale":{"domain":[0,4],"nice":false},"axis":{"title":"Arg1/Gapdh","values":[0,1,2,3,4],"format":"d","tickCount":20,"labelOverlap":false}},
    "color":{"field":"bar","type":"nominal","scale":{"domain":[1,2,3,4],"range":["#000000","#858585","#000000","#858585"]},"legend":null}}},
  {"data":{"name":"bars"},"transform":[{"filter":"datum.panel=='Arg1' && datum.bar<=2"}],"mark":{"type":"bar","width":23.5,"fill":{"gradient":"linear","x1":0,"y1":0,"x2":1,"y2":0,"stops":[{"offset":0,"color":"#000"},{"offset":0.2,"color":"#000"},{"offset":0.2,"color":"#fff"},{"offset":0.4,"color":"#fff"},{"offset":0.4,"color":"#000"},{"offset":0.6,"color":"#000"},{"offset":0.6,"color":"#fff"},{"offset":0.8,"color":"#fff"},{"offset":0.8,"color":"#000"},{"offset":1,"color":"#000"}]}},"encoding":{"x":{"field":"bar","type":"quantitative"},"y":{"field":"mean","type":"quantitative"}}},
  {"data":{"name":"bars"},"transform":[{"filter":"datum.panel=='Arg1' && datum.bar==1"}],"mark":{"type":"bar","width":23.5,"blend":"difference","fill":{"gradient":"linear","x1":0,"y1":0,"x2":0,"y2":1,"stops":[{"offset":0,"color":"#fff"},{"offset":0.1111,"color":"#fff"},{"offset":0.1111,"color":"#000"},{"offset":0.2222,"color":"#000"},{"offset":0.2222,"color":"#fff"},{"offset":0.3333,"color":"#fff"},{"offset":0.3333,"color":"#000"},{"offset":0.4444,"color":"#000"},{"offset":0.4444,"color":"#fff"},{"offset":0.5556,"color":"#fff"},{"offset":0.5556,"color":"#000"},{"offset":0.6667,"color":"#000"},{"offset":0.6667,"color":"#fff"},{"offset":0.7778,"color":"#fff"},{"offset":0.7778,"color":"#000"},{"offset":0.8889,"color":"#000"},{"offset":0.8889,"color":"#fff"},{"offset":1,"color":"#fff"}]}},"encoding":{"x":{"field":"bar","type":"quantitative"},"y":{"field":"mean","type":"quantitative"}}},
  {"data":{"name":"bars"},"transform":[{"filter":"datum.panel=='Arg1' && datum.bar==2"}],"mark":{"type":"bar","width":23.5,"blend":"difference","fill":{"gradient":"linear","x1":0,"y1":0,"x2":0,"y2":1,"stops":[{"offset":0,"color":"#fff"},{"offset":0.0769,"color":"#fff"},{"offset":0.0769,"color":"#000"},{"offset":0.1538,"color":"#000"},{"offset":0.1538,"color":"#fff"},{"offset":0.2308,"color":"#fff"},{"offset":0.2308,"color":"#000"},{"offset":0.3077,"color":"#000"},{"offset":0.3077,"color":"#fff"},{"offset":0.3846,"color":"#fff"},{"offset":0.3846,"color":"#000"},{"offset":0.4615,"color":"#000"},{"offset":0.4615,"color":"#fff"},{"offset":0.5385,"color":"#fff"},{"offset":0.5385,"color":"#000"},{"offset":0.6154,"color":"#000"},{"offset":0.6154,"color":"#fff"},{"offset":0.6923,"color":"#fff"},{"offset":0.6923,"color":"#000"},{"offset":0.7692,"color":"#000"},{"offset":0.7692,"color":"#fff"},{"offset":0.8462,"color":"#fff"},{"offset":0.8462,"color":"#000"},{"offset":0.9231,"color":"#000"},{"offset":0.9231,"color":"#fff"},{"offset":1,"color":"#fff"}]}},"encoding":{"x":{"field":"bar","type":"quantitative"},"y":{"field":"mean","type":"quantitative"}}},
  {"data":{"name":"bars"},"transform":[{"filter":"datum.panel=='Arg1' && datum.bar==2"}],"mark":{"type":"bar","width":23.5,"blend":"screen","fill":"#8c8c8c"},"encoding":{"x":{"field":"bar","type":"quantitative"},"y":{"field":"mean","type":"quantitative"}}},
  {"data":{"name":"bars"},"transform":[{"filter":"datum.panel=='Arg1' && datum.bar<=2"}],"mark":{"type":"bar","width":23.5,"fillOpacity":0,"strokeWidth":2},"encoding":{"x":{"field":"bar","type":"quantitative"},"y":{"field":"mean","type":"quantitative"},"stroke":{"field":"bar","type":"nominal","scale":{"domain":[1,2],"range":["#000000","#858585"]},"legend":null}}},
  {"data":{"name":"bars"},"transform":[{"filter":"datum.panel=='Arg1'"}],"mark":{"type":"rule","strokeWidth":2.5},"encoding":{"x":{"field":"bar","type":"quantitative"},"y":{"field":"mean","type":"quantitative"},"y2":{"field":"upper"},"color":{"field":"bar","type":"nominal","legend":null}}},
  {"data":{"name":"bars"},"transform":[{"filter":"datum.panel=='Arg1'"}],"mark":{"type":"rule","strokeWidth":2.5,"xOffset":-8.5,"x2Offset":8.5},"encoding":{"x":{"field":"bar","type":"quantitative"},"x2":{"field":"bar"},"y":{"field":"upper","type":"quantitative"},"color":{"field":"bar","type":"nominal","legend":null}}},
  {"data":{"name":"tests"},"transform":[{"filter":"datum.panel=='Arg1' && datum.label=='*'"}],"mark":{"type":"rule","strokeWidth":2,"strokeCap":"square"},"encoding":{"x":{"field":"from","type":"quantitative"},"x2":{"field":"to"},"y":{"field":"top","type":"quantitative"}}},
  {"data":{"name":"tests"},"transform":[{"filter":"datum.panel=='Arg1' && datum.label=='*'"}],"mark":{"type":"rule","strokeWidth":2,"strokeCap":"square"},"encoding":{"x":{"field":"from","type":"quantitative"},"y":{"field":"top","type":"quantitative"},"y2":{"field":"fromEnd"}}},
  {"data":{"name":"tests"},"transform":[{"filter":"datum.panel=='Arg1' && datum.label=='*'"}],"mark":{"type":"rule","strokeWidth":2,"strokeCap":"square"},"encoding":{"x":{"field":"to","type":"quantitative"},"y":{"field":"top","type":"quantitative"},"y2":{"field":"toEnd"}}},
  {"data":{"name":"tests"},"transform":[{"filter":"datum.panel=='Arg1' && datum.label=='n.s.'"}],"mark":{"type":"rule","strokeWidth":2,"strokeDash":[4,3]},"encoding":{"x":{"field":"from","type":"quantitative"},"x2":{"field":"to"},"y":{"field":"top","type":"quantitative"}}},
  {"data":{"name":"tests"},"transform":[{"filter":"datum.panel=='Arg1' && datum.label=='n.s.'"}],"mark":{"type":"rule","strokeWidth":2,"strokeDash":[4,3]},"encoding":{"x":{"field":"from","type":"quantitative"},"y":{"field":"top","type":"quantitative"},"y2":{"field":"fromEnd"}}},
  {"data":{"name":"tests"},"transform":[{"filter":"datum.panel=='Arg1' && datum.label=='n.s.'"}],"mark":{"type":"rule","strokeWidth":2,"strokeDash":[4,3]},"encoding":{"x":{"field":"to","type":"quantitative"},"y":{"field":"top","type":"quantitative"},"y2":{"field":"toEnd"}}},
  {"data":{"name":"tests"},"transform":[{"filter":"datum.panel=='Arg1' && datum.label=='*'"}],"mark":{"type":"text","fontSize":25,"baseline":"alphabetic","dy":14},"encoding":{"x":{"field":"labelX","type":"quantitative"},"y":{"field":"labelY","type":"quantitative"},"text":{"field":"label"}}},
  {"data":{"name":"tests"},"transform":[{"filter":"datum.panel=='Arg1' && datum.label=='n.s.'"}],"mark":{"type":"text","fontSize":19,"baseline":"alphabetic","dy":5},"encoding":{"x":{"field":"labelX","type":"quantitative"},"y":{"field":"labelY","type":"quantitative"},"text":{"field":"label"}}},
  {"data":{"name":"geno"},"transform":[{"filter":"datum.sup=='f/f'"}],"mark":{"type":"rule","strokeWidth":2,"strokeDash":[7,3,2,3],"yOffset":31},"encoding":{"x":{"field":"from","type":"quantitative"},"x2":{"field":"to"},"y":{"datum":0}}},
  {"data":{"name":"geno"},"transform":[{"filter":"datum.sup!='f/f'"}],"mark":{"type":"rule","strokeWidth":2,"yOffset":31},"encoding":{"x":{"field":"from","type":"quantitative"},"x2":{"field":"to"},"y":{"datum":0}}},
  {"data":{"name":"geno"},"mark":{"type":"rule","strokeWidth":2,"yOffset":27,"y2Offset":35},"encoding":{"x":{"field":"from","type":"quantitative"},"y":{"datum":0},"y2":{"datum":0}}},
  {"data":{"name":"geno"},"mark":{"type":"rule","strokeWidth":2,"yOffset":27,"y2Offset":35},"encoding":{"x":{"field":"to","type":"quantitative"},"y":{"datum":0},"y2":{"datum":0}}},
  {"data":{"name":"geno"},"mark":{"type":"text","fontSize":16,"fontStyle":"italic","align":"right","baseline":"alphabetic","yOffset":54},"encoding":{"x":{"field":"mid","type":"quantitative"},"y":{"datum":0},"text":{"field":"base"}}},
  {"data":{"name":"geno"},"mark":{"type":"text","fontSize":14.5,"fontStyle":"italic","align":"left","baseline":"alphabetic","yOffset":47.5,"dx":1},"encoding":{"x":{"field":"mid","type":"quantitative"},"y":{"datum":0},"text":{"field":"sup"}}}
 ]}
]
}
